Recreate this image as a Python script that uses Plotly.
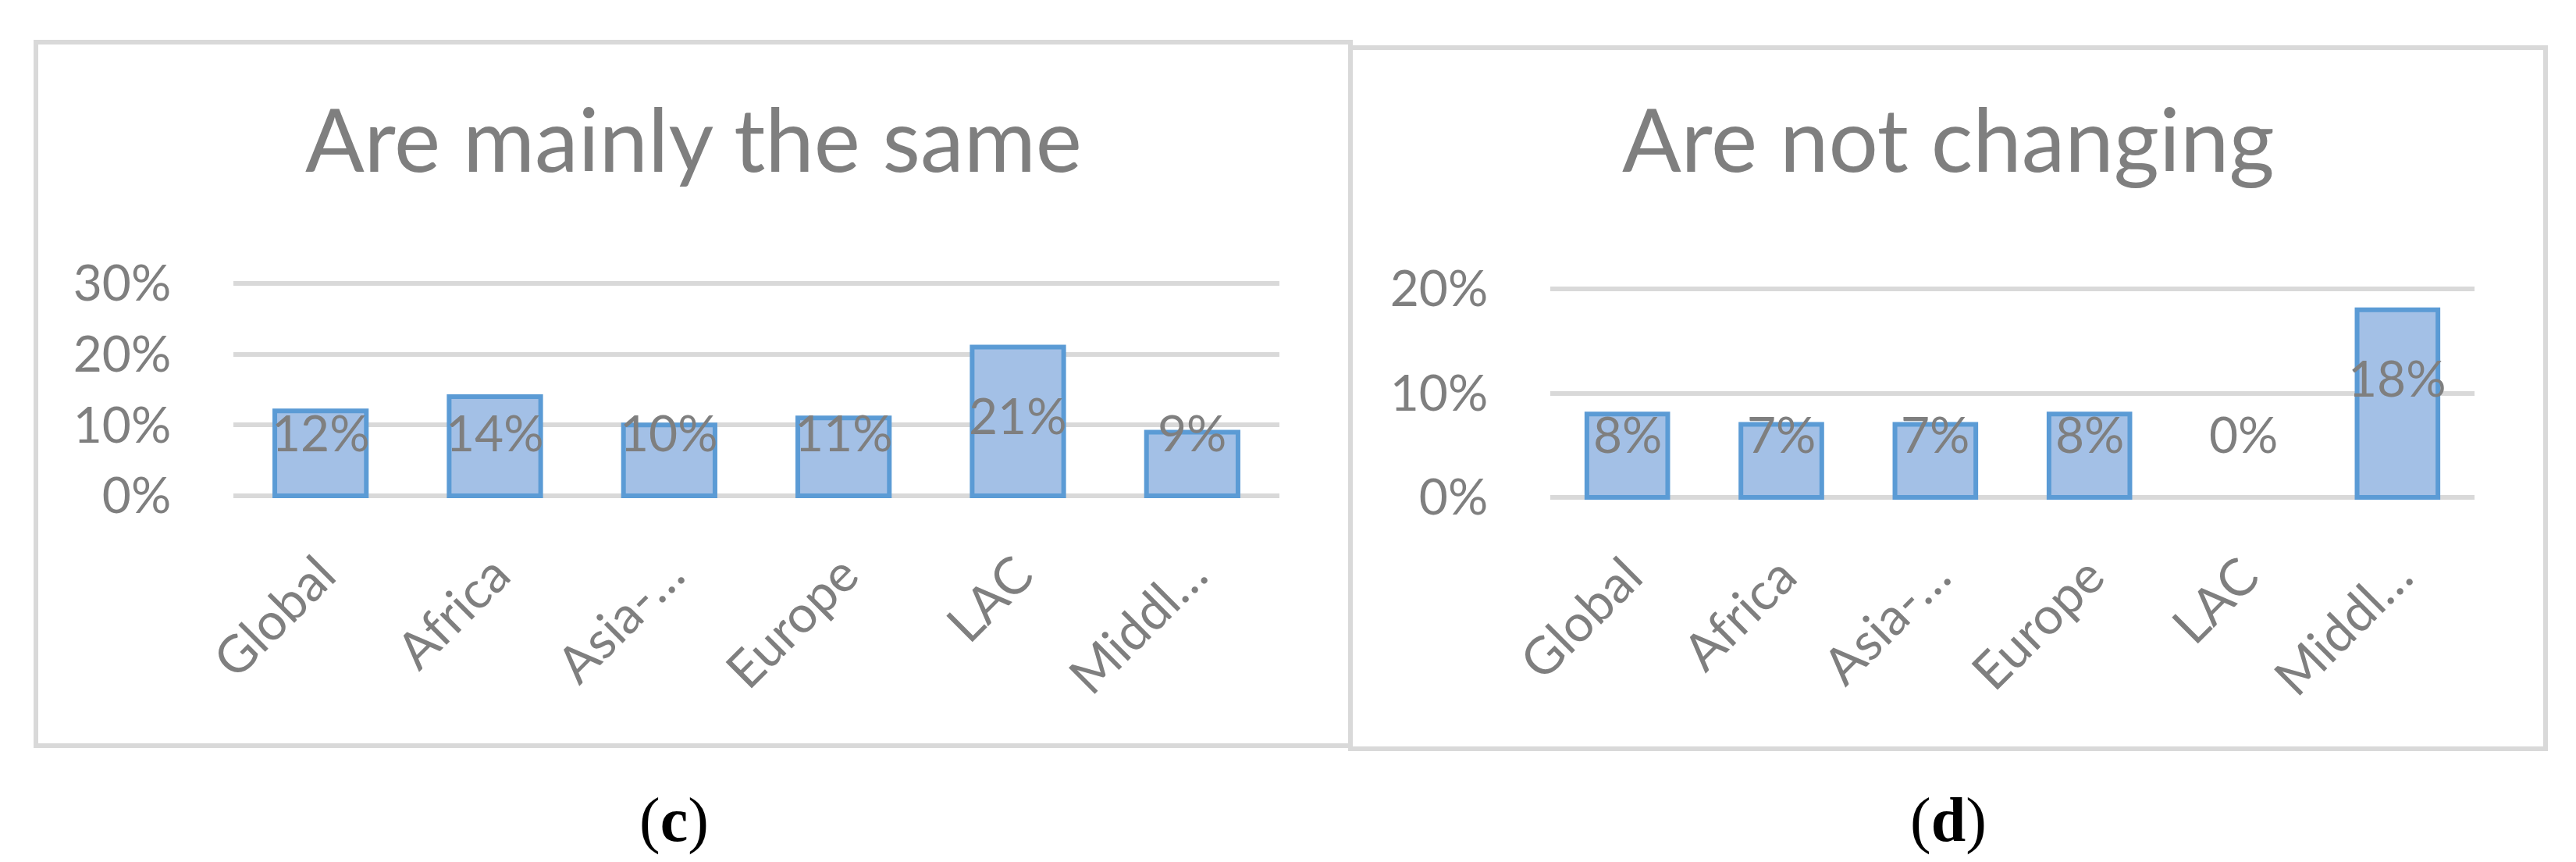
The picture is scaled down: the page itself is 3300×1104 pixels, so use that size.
import plotly.graph_objects as go

# ─── Data ────────────────────────────────────────────────────────────────────

categories = ["Global", "Africa", "Asia-…", "Europe", "LAC", "Middl…"]
same_values = [0.12, 0.14, 0.10, 0.11, 0.21, 0.09]
not_changing_values = [0.08, 0.07, 0.07, 0.08, 0.00, 0.18]
same_ticks = [0, 0.10, 0.20, 0.30]
not_changing_ticks = [0, 0.10, 0.20]

# ─── Style ───────────────────────────────────────────────────────────────────

W, H = 3300, 1104
GREY_TEXT = "#7f7f7f"
GRID = "#d9d9d9"
BAR_FILL = "#a3c0e6"
BAR_LINE = "#5b9bd5"
FONT = "Lato"
PAD = 5  # px of slack so gridlines at the range ends are kept

# panel geometry in pixels: plot x0, x1, y of top tick, y of zero, top tick value
PANELS = [
    dict(x0=291, x1=1631, ytop=355, ybase=627, vmax=0.30,
         values=same_values, ticks=same_ticks, title="Are mainly the same",
         title_x=880, caption="(<b>c</b>)", cap_x=855,
         box=(38, 46, 1722, 947)),
    dict(x0=1978, x1=3162, ytop=362, ybase=629, vmax=0.20,
         values=not_changing_values, ticks=not_changing_ticks, title="Are not changing",
         title_x=2488, caption="(<b>d</b>)", cap_x=2488,
         box=(1722, 53, 3253, 951)),
]

fig = go.Figure()
shapes = []
annotations = []

for i, p in enumerate(PANELS, start=1):
    xa = "x" if i == 1 else f"x{i}"
    ya = "y" if i == 1 else f"y{i}"
    ppu = (p["ybase"] - p["ytop"]) / p["vmax"]

    fig.add_trace(go.Bar(
        x=categories, y=p["values"],
        xaxis=xa, yaxis=ya,
        marker=dict(color=BAR_FILL,
                    line=dict(color=BAR_LINE, width=[6 if v > 0 else 0 for v in p["values"]])),
        showlegend=False,
    ))

    ax_x = dict(
        domain=[p["x0"] / W, p["x1"] / W],
        anchor=ya,
        showgrid=False, zeroline=False, showline=False,
        automargin=False,
        tickangle=-45,
        ticks="outside", ticklen=30, tickcolor="rgba(0,0,0,0)",
        tickfont=dict(family=FONT, size=66, color=GREY_TEXT),
    )
    ax_y = dict(
        domain=[1 - (p["ybase"] + PAD) / H, 1 - (p["ytop"] - PAD) / H],
        anchor=xa,
        range=[-PAD / ppu, p["vmax"] + PAD / ppu],
        tickvals=p["ticks"],
        tickformat=".0%",
        showgrid=True, gridcolor=GRID, gridwidth=6,
        zeroline=False, showline=False,
        automargin=False,
        ticks="outside", ticklen=66, tickcolor="rgba(0,0,0,0)",
        tickfont=dict(family=FONT, size=64, color=GREY_TEXT),
    )
    fig.update_layout(**{("xaxis" if i == 1 else f"xaxis{i}"): ax_x,
                         ("yaxis" if i == 1 else f"yaxis{i}"): ax_y})

    # data labels, Excel-style: a bit under the top of tall bars, fixed height for short ones
    for c, v in zip(categories, p["values"]):
        annotations.append(dict(
            x=c, y=0, xref=xa, yref=ya,
            text=f"{v:.0%}", showarrow=False,
            yanchor="middle", yshift=max(82, v * ppu - 87),
            font=dict(family=FONT, size=64, color=GREY_TEXT),
        ))

    # chart title
    annotations.append(dict(
        x=p["title_x"] / W, y=1 - 168 / H, xref="paper", yref="paper",
        text=p["title"], showarrow=False, xanchor="center", yanchor="middle",
        font=dict(family=FONT, size=112, color=GREY_TEXT),
    ))

    # caption under the panel
    annotations.append(dict(
        x=p["cap_x"] / W, y=1 - 1042 / H, xref="paper", yref="paper",
        text=p["caption"], showarrow=False, xanchor="center", yanchor="middle",
        font=dict(family="Liberation Serif", size=80, color="#000000"),
    ))

    bx0, by0, bx1, by1 = p["box"]
    shapes.append(dict(
        type="rect", xref="paper", yref="paper",
        x0=bx0 / W, x1=bx1 / W, y0=1 - by1 / H, y1=1 - by0 / H,
        line=dict(color=GRID, width=6), fillcolor="rgba(0,0,0,0)", layer="below",
    ))

fig.update_layout(
    width=W, height=H,
    margin=dict(l=0, r=0, t=0, b=0, pad=0, autoexpand=False),
    paper_bgcolor="white",
    plot_bgcolor="white",
    bargap=0.475,
    showlegend=False,
    shapes=shapes,
    annotations=annotations,
)

fig.write_html("out.html")
